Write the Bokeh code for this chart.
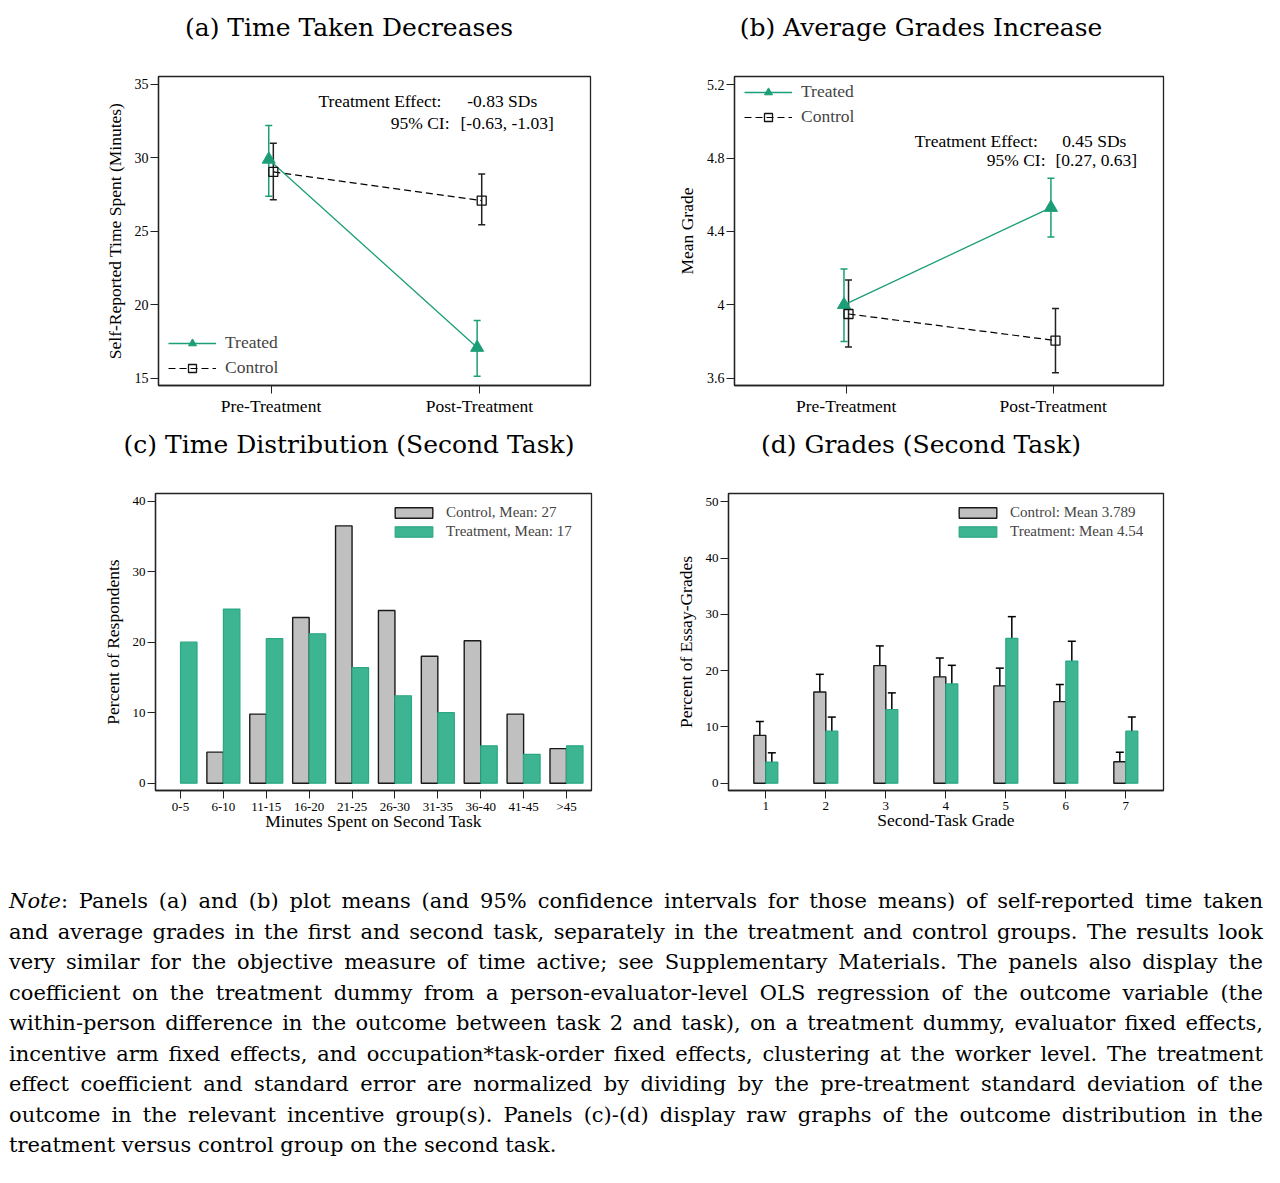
from bokeh.plotting import figure
from bokeh.models import (Range1d, FixedTicker, Label, Legend, LegendItem, Whisker,
                          TeeHead, ColumnDataSource, Div)
from bokeh.layouts import column, row
from bokeh.embed import file_html
from bokeh.resources import INLINE

# ---------------- data ----------------
periods = ["Pre-Treatment", "Post-Treatment"]
time_treated = [29.9, 17.1]
time_treated_lo = [27.4, 15.15]
time_treated_hi = [32.2, 18.95]
time_control = [29.05, 27.1]
time_control_lo = [27.15, 25.45]
time_control_hi = [31.0, 28.9]

grade_treated = [4.0, 4.53]
grade_treated_lo = [3.80, 4.37]
grade_treated_hi = [4.195, 4.69]
grade_control = [3.95, 3.805]
grade_control_lo = [3.77, 3.63]
grade_control_hi = [4.135, 3.98]

bins = ["0-5", "6-10", "11-15", "16-20", "21-25", "26-30", "31-35", "36-40", "41-45", ">45"]
time_pct_control = [0, 4.4, 9.8, 23.5, 36.5, 24.5, 18.0, 20.2, 9.8, 4.9]
time_pct_treat = [20.0, 24.7, 20.5, 21.2, 16.4, 12.4, 10.0, 5.3, 4.1, 5.3]

grades = [1, 2, 3, 4, 5, 6, 7]
grade_pct_control = [8.5, 16.2, 20.9, 18.9, 17.3, 14.5, 3.8]
grade_pct_control_lo = [6.3, 13.05, 17.55, 15.65, 14.2, 11.6, 2.25]
grade_pct_control_hi = [10.95, 19.35, 24.4, 22.25, 20.45, 17.55, 5.5]
grade_pct_treat = [3.75, 9.25, 13.1, 17.65, 25.75, 21.7, 9.25]
grade_pct_treat_lo = [2.15, 6.65, 10.15, 14.3, 22.0, 18.1, 6.65]
grade_pct_treat_hi = [5.4, 11.75, 16.05, 20.95, 29.6, 25.25, 11.75]

titles = ["(a) Time Taken Decreases", "(b) Average Grades Increase",
          "(c) Time Distribution (Second Task)", "(d) Grades (Second Task)"]

# ---------------- styles ----------------
GREEN = "#1b9e77"
BAR_GREEN = "#3db592"
BAR_GREEN_LINE = "#2aa783"
GRAY = "#c0c0c0"
SERIF = "Liberation Serif"
TITLE_FONT = "DejaVu Serif"


def title_div(text, width, height):
    return Div(text=('<div style="width:%dpx;height:%dpx;line-height:%dpx;text-align:center;'
                     'font-family:\'%s\';font-size:25px;color:black;white-space:nowrap;">%s</div>'
                     % (width, height, height, TITLE_FONT, text)),
               width=width, height=height, margin=0)


def base_fig(fw, fh, left, right, top, bottom, xr, yr):
    p = figure(frame_width=fw, frame_height=fh, min_border_left=left, min_border_right=right,
               min_border_top=top, min_border_bottom=bottom, x_range=xr, y_range=yr,
               output_backend="svg", toolbar_location=None, background_fill_color="white",
               border_fill_color="white")
    p.xgrid.visible = False
    p.ygrid.visible = False
    p.outline_line_color = "#222222"
    p.outline_line_width = 1.3
    for ax in (p.xaxis[0], p.yaxis[0]):
        ax.axis_line_color = "#222222"
        ax.axis_line_width = 1.3
        ax.major_tick_line_color = "#222222"
        ax.major_tick_out = 8
        ax.major_tick_in = 0
        ax.minor_tick_out = 0
        ax.minor_tick_in = 0
        ax.major_label_text_font = SERIF
        ax.axis_label_text_font = SERIF
        ax.axis_label_text_font_style = "normal"
        ax.axis_label_text_font_size = "17.5px"
        ax.axis_label_text_color = "black"
        ax.major_label_text_color = "black"
        ax.major_label_standoff = 2
    return p


def add_note(p, text, x, y, align):
    p.add_layout(Label(x=x, y=y, x_units="screen", y_units="screen", text=text,
                       text_align=align, text_baseline="middle",
                       text_font=SERIF, text_font_size="17.5px", text_color="black"))


def line_panel(yr, yticks, ylabel, tr, tr_lo, tr_hi, co, co_lo, co_hi,
               left, fw, right, legend_loc, notes, overrides=None):
    xs = [i + 1 for i in range(len(periods))]
    p = base_fig(fw, 309, left, right, 20, 40, Range1d(0.46, 2.533), Range1d(*yr))
    p.xaxis.ticker = FixedTicker(ticks=xs)
    p.xaxis.major_label_overrides = {x: lab for x, lab in zip(xs, periods)}
    p.xaxis.major_label_text_font_size = "17.5px"
    p.yaxis.ticker = FixedTicker(ticks=yticks)
    p.yaxis.major_label_text_font_size = "14px"
    p.yaxis.axis_label = ylabel
    p.yaxis.axis_label_standoff = 7
    if overrides:
        p.yaxis.major_label_overrides = overrides

    st = ColumnDataSource(dict(x=[x - 0.011 for x in xs], y=tr, lo=tr_lo, hi=tr_hi))
    sc = ColumnDataSource(dict(x=[x + 0.011 for x in xs], y=co, lo=co_lo, hi=co_hi))

    lc = p.line("x", "y", source=sc, line_color="black", line_width=1.2, line_dash="7 4")
    wc = Whisker(base="x", upper="hi", lower="lo", source=sc, line_color="#222222", line_width=1.5,
                 upper_head=TeeHead(size=7, line_color="#222222", line_width=1.5),
                 lower_head=TeeHead(size=7, line_color="#222222", line_width=1.5))
    lt = p.line("x", "y", source=st, line_color=GREEN, line_width=1.3)
    wt = Whisker(base="x", upper="hi", lower="lo", source=st, line_color=GREEN, line_width=1.5,
                 upper_head=TeeHead(size=7, line_color=GREEN, line_width=1.5),
                 lower_head=TeeHead(size=7, line_color=GREEN, line_width=1.5))
    p.add_layout(wt)
    p.add_layout(wc)
    mt = p.scatter("x", "y", source=st, marker="triangle", size=13, fill_color=GREEN,
                   line_color=GREEN)
    mc = p.scatter("x", "y", source=sc, marker="square", size=9, fill_alpha=0,
                   line_color="#111111", line_width=1.3)

    leg = Legend(items=[LegendItem(label="Treated", renderers=[lt, mt]),
                        LegendItem(label="Control", renderers=[lc, mc])],
                 location=legend_loc, glyph_width=48, glyph_height=20, label_height=20,
                 spacing=4, padding=0, margin=0, label_standoff=9,
                 border_line_alpha=0, background_fill_alpha=0,
                 label_text_font=SERIF, label_text_font_size="17.5px")
    p.add_layout(leg)
    for (txt, x, y, al) in notes:
        add_note(p, txt, x, y, al)
    return p


pa = line_panel((14.52, 35.54), [15, 20, 25, 30, 35],
                "Self-Reported Time Spent (Minutes)",
                time_treated, time_treated_lo, time_treated_hi,
                time_control, time_control_lo, time_control_hi,
                158, 432, 50, (10, 6.7),
                [("Treatment Effect:", 160, 284.3, "left"), ("-0.83 SDs", 308.7, 284.3, "left"),
                 ("95% CI:", 291, 262.7, "right"), ("[-0.63, -1.03]", 302, 262.7, "left")])

pb = line_panel((3.56, 5.245), [3.6, 4.0, 4.4, 4.8, 5.2], "Mean Grade",
                grade_treated, grade_treated_lo, grade_treated_hi,
                grade_control, grade_control_lo, grade_control_hi,
                94, 429, 100, (10, 258),
                [("Treatment Effect:", 180.3, 245, "left"), ("0.45 SDs", 327.7, 245, "left"),
                 ("95% CI:", 311, 225.7, "right"), ("[0.27, 0.63]", 321, 225.7, "left")],
                overrides={3.6: "3.6", 4.0: "4", 4.4: "4.4", 4.8: "4.8", 5.2: "5.2"})


def bar_panel(cats, ctrl, treat, xr, yr, yticks, ylabel, xlabel, tick_standoff,
              xlabel_standoff, width, left, fw, right, legend_loc, labels,
              ctrl_err=None, treat_err=None):
    xs = [i + 1 for i in range(len(cats))]
    p = base_fig(fw, 297, left, right, 28, 96, Range1d(*xr), Range1d(*yr))
    p.xaxis.ticker = FixedTicker(ticks=xs)
    p.xaxis.major_label_overrides = {x: str(c) for x, c in zip(xs, cats)}
    p.xaxis.major_label_text_font_size = "13px"
    p.xaxis.major_label_standoff = tick_standoff
    p.xaxis.axis_label = xlabel
    p.xaxis.axis_label_standoff = xlabel_standoff
    p.yaxis.ticker = FixedTicker(ticks=yticks)
    p.yaxis.major_label_text_font_size = "13px"
    p.yaxis.axis_label = ylabel
    p.yaxis.axis_label_standoff = 7

    half = width / 2
    cx = [x - half for x, v in zip(xs, ctrl) if v > 0]
    cv = [v for v in ctrl if v > 0]
    tx = [x + half for x in xs]
    rc = p.vbar(x=cx, top=cv, bottom=0, width=width, fill_color=GRAY,
                line_color="#1a1a1a", line_width=1.4)
    rt = p.vbar(x=tx, top=treat, bottom=0, width=width, fill_color=BAR_GREEN,
                line_color=BAR_GREEN_LINE, line_width=1.2)
    if ctrl_err is not None:
        for xx, (lo, hi) in ((cx, ctrl_err), (tx, treat_err)):
            src = ColumnDataSource(dict(x=xx, lo=lo, hi=hi))
            p.add_layout(Whisker(base="x", upper="hi", lower="lo", source=src,
                                 line_color="black", line_width=1.5,
                                 upper_head=TeeHead(size=8, line_color="black", line_width=1.5),
                                 lower_head=TeeHead(size=8, line_color="black", line_width=1.5)))
    leg = Legend(items=[LegendItem(label=labels[0], renderers=[rc]),
                        LegendItem(label=labels[1], renderers=[rt])],
                 location=legend_loc, glyph_width=47, glyph_height=13, label_height=16,
                 spacing=2, padding=0, margin=0, label_standoff=9,
                 border_line_alpha=0, background_fill_alpha=0,
                 label_text_font=SERIF, label_text_font_size="15px")
    p.add_layout(leg)
    return p


pc = bar_panel(bins, time_pct_control, time_pct_treat, (0.417, 10.583),
               (-1.037, 41.09), [0, 10, 20, 30, 40], "Percent of Respondents",
               "Minutes Spent on Second Task", 0, -6, 0.385, 155, 436, 49, (235, 250.5),
               ["Control, Mean: 27", "Treatment, Mean: 17"])

pd_ = bar_panel(grades, grade_pct_control, grade_pct_treat, (0.378, 7.628),
                (-1.30, 51.49), [0, 10, 20, 30, 40, 50], "Percent of Essay-Grades",
                "Second-Task Grade", 3, -3, 0.2, 88, 435, 100, (226, 250.5),
                ["Control: Mean 3.789", "Treatment: Mean 4.54"],
                ctrl_err=(grade_pct_control_lo, grade_pct_control_hi),
                treat_err=(grade_pct_treat_lo, grade_pct_treat_hi))

note_lines = [
    "<i>Note</i>: Panels (a) and (b) plot means (and 95% confidence intervals for those means) of self-reported time taken",
    "and average grades in the first and second task, separately in the treatment and control groups. The results look",
    "very similar for the objective measure of time active; see Supplementary Materials. The panels also display the",
    "coefficient on the treatment dummy from a person-evaluator-level OLS regression of the outcome variable (the",
    "within-person difference in the outcome between task 2 and task), on a treatment dummy, evaluator fixed effects,",
    "incentive arm fixed effects, and occupation*task-order fixed effects, clustering at the worker level. The treatment",
    "effect coefficient and standard error are normalized by dividing by the pre-treatment standard deviation of the",
    "outcome in the relevant incentive group(s). Panels (c)-(d) display raw graphs of the outcome distribution in the",
    "treatment versus control group on the second task.",
]
html = "".join(
    '<div style="text-align:justify;text-align-last:%s;">%s</div>'
    % ("justify" if i < len(note_lines) - 1 else "left", ln)
    for i, ln in enumerate(note_lines))
note = Div(text='<div style="font-family:\'DejaVu Serif\';font-size:21px;line-height:30.5px;'
                'color:black;width:1254px;margin-left:9px;">' + html + '</div>',
           width=1265, margin=0)

layout = column(row(title_div(titles[0], 698, 56), title_div(titles[1], 446, 56)),
                row(pa, pb),
                row(title_div(titles[2], 698, 40), title_div(titles[3], 446, 40)),
                row(pc, pd_),
                note)
open("out.html", "w").write(file_html(layout, INLINE))
